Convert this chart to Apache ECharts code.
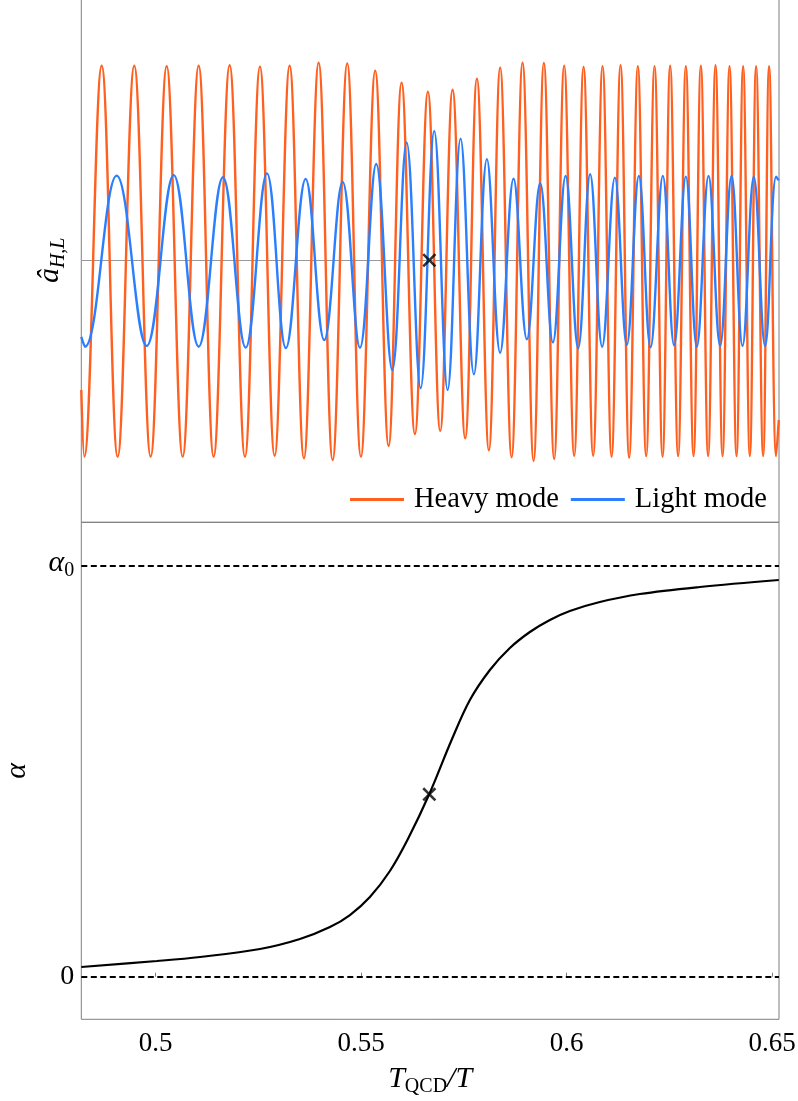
<!DOCTYPE html>
<html>
<head>
<meta charset="utf-8">
<script src="https://cdn.jsdelivr.net/npm/echarts@6/dist/echarts.min.js"></script>
<style>
html,body{margin:0;padding:0;background:#fff;}
#c{width:798px;height:1101px;}
</style>
</head>
<body>
<div id="c"></div>
<script>
// x axis: T_QCD / T
const xTicks = [0.5, 0.55, 0.6, 0.65];
const xTickLabels = ['0.5', '0.55', '0.6', '0.65'];

// Heavy mode: successive extrema (x, amplitude)
const heavyX = [0.4819, 0.48263, 0.48686, 0.49075, 0.49479, 0.49878, 0.50268, 0.50657, 0.51046, 0.51411,
  0.51800, 0.52173, 0.52538, 0.52895, 0.53260, 0.53608, 0.53966, 0.54307, 0.54662, 0.54995,
  0.55343, 0.55669, 0.55985, 0.56309, 0.56625, 0.56925, 0.57226, 0.57533, 0.57818, 0.58109,
  0.58384, 0.58662, 0.58929, 0.59197, 0.59448, 0.59698, 0.59942, 0.60185, 0.60414, 0.60647,
  0.60876, 0.61095, 0.61314, 0.61523, 0.61735, 0.61937, 0.62141, 0.62336, 0.62521, 0.62715,
  0.62903, 0.63090, 0.63268, 0.63445, 0.63625, 0.63796, 0.63966, 0.64136, 0.64297, 0.64460,
  0.64613, 0.64784, 0.64929, 0.65100, 0.65165];
const heavyY = [-0.665, -1.007, 0.998, -1.007, 0.998, -1.007, 0.995, -1.007, 0.998, -1.007,
  1.0, -1.007, 0.993, -1.002, 0.998, -1.015, 1.013, -1.024, 1.01, -1.007,
  0.972, -0.952, 0.911, -0.891, 0.865, -0.875, 0.875, -0.913, 0.931, -0.974,
  0.988, -1.01, 1.013, -1.028, 1.012, -1.019, 0.998, -1.002, 0.991, -1.002,
  0.996, -1.007, 1.0, -1.012, 0.996, -1.004, 0.996, -1.007, 0.998, -1.004,
  0.996, -1.004, 0.998, -1.004, 1.0, -1.004, 0.996, -1.004, 0.996, -1.004,
  0.995, -1.004, 0.996, -1.004, -0.82];

// Light mode: successive extrema
const lightX = [0.4819, 0.48280, 0.49051, 0.49781, 0.50438, 0.51046, 0.51637, 0.52190, 0.52708, 0.53170,
  0.53650, 0.54102, 0.54550, 0.54971, 0.55367, 0.55757, 0.56107, 0.56448, 0.56779, 0.57105,
  0.57421, 0.57745, 0.58061, 0.58384, 0.58710, 0.59034, 0.59358, 0.59667, 0.59976, 0.60282,
  0.60574, 0.60866, 0.61175, 0.61467, 0.61759, 0.62044, 0.62343, 0.62618, 0.62903, 0.63170,
  0.63455, 0.63737, 0.64015, 0.64282, 0.64557, 0.64832, 0.65100, 0.65165];
const lightY = [-0.393, -0.443, 0.434, -0.439, 0.437, -0.443, 0.426, -0.448, 0.446, -0.450,
  0.417, -0.409, 0.402, -0.448, 0.494, -0.563, 0.605, -0.656, 0.663, -0.665,
  0.624, -0.585, 0.519, -0.474, 0.418, -0.405, 0.395, -0.421, 0.432, -0.451,
  0.441, -0.443, 0.424, -0.434, 0.432, -0.446, 0.432, -0.436, 0.429, -0.443,
  0.432, -0.439, 0.432, -0.439, 0.429, -0.439, 0.429, 0.41];

// alpha(T) curve (alpha_0 = 1)
const alphaX = [0.4819, 0.50032, 0.51078, 0.52538, 0.53511, 0.54241, 0.54728, 0.55214, 0.55701, 0.56139,
  0.56657, 0.57202, 0.57647, 0.58134, 0.58620, 0.59107, 0.59594, 0.60080, 0.60810, 0.61783,
  0.63243, 0.65165];
const alphaY = [0.0236, 0.0382, 0.0480, 0.0674, 0.0918, 0.1210, 0.1502, 0.1941, 0.2574, 0.3353,
  0.4441, 0.5763, 0.6737, 0.7468, 0.8003, 0.8393, 0.8685, 0.8904, 0.9123, 0.9318,
  0.9489, 0.9659];

// marked point (×)
const markX = 0.5666;
const markAlpha = 0.4441;
const refLines = [0, 1];

const zip = (xs, ys) => xs.map((x, i) => [x, ys[i]]);

const FONT = 'Liberation Serif';
const GRAY = '#7f7f7f';
const ORANGE = '#FF5F1F';
const BLUE = '#2B7FFF';
const XSYM = 'path://M0,1.3L1.3,0L5,3.7L8.7,0L10,1.3L6.3,5L10,8.7L8.7,10L5,6.3L1.3,10L0,8.7L3.7,5Z';

const chart = echarts.init(document.getElementById('c'), null, {renderer: 'canvas'});
chart.setOption({
  animation: false,
  backgroundColor: '#fff',
  textStyle: {fontFamily: FONT},
  grid: [
    {left: 81.3, right: 19, top: -1.7, height: 524, show: true, borderColor: GRAY, borderWidth: 1,
      backgroundColor: 'transparent', outerBoundsMode: 'none', containLabel: false},
    {left: 81.3, right: 19, top: 522.3, height: 497, show: true, borderColor: GRAY, borderWidth: 1,
      backgroundColor: 'transparent', outerBoundsMode: 'none', containLabel: false}
  ],
  legend: {
    data: ['Heavy mode', 'Light mode'],
    left: 350, top: 485,
    icon: 'rect', itemWidth: 54, itemHeight: 3, itemGap: 12,
    textStyle: {fontFamily: FONT, fontSize: 28.5, color: '#000', padding: [0, 0, 0, 5]},
    padding: 0
  },
  xAxis: [
    {type: 'value', gridIndex: 0, min: 0.4819, max: 0.6517,
      axisLine: {show: false}, axisTick: {show: false}, axisLabel: {show: false}, splitLine: {show: false}},
    {type: 'value', gridIndex: 1, min: 0.4819, max: 0.6517,
      axisLine: {show: false}, splitLine: {show: false},
      axisTick: {show: true, inside: true, length: 4, customValues: xTicks, lineStyle: {color: GRAY}},
      axisLabel: {show: true, customValues: xTicks, margin: 11, fontFamily: FONT, fontSize: 27, color: '#000',
        formatter: v => xTickLabels[xTicks.findIndex(t => Math.abs(t - v) < 1e-9)]},
      name: '{i|T}{s|QCD}{i|/T}', nameLocation: 'middle', nameGap: 47,
      nameTextStyle: {rich: {
        i: {fontFamily: FONT, fontStyle: 'italic', fontSize: 30, color: '#000', lineHeight: 30, padding: [0, 0, 5, 0]},
        s: {fontFamily: FONT, fontSize: 20, color: '#000', lineHeight: 20, verticalAlign: 'bottom'}
      }}}
  ],
  yAxis: [
    {type: 'value', gridIndex: 0, min: -1.3436, max: 1.3436,
      axisLine: {show: false}, axisTick: {show: false}, axisLabel: {show: false}, splitLine: {show: false},
      name: '{a|â}{s|H,L}', nameLocation: 'middle', nameRotate: 90, nameGap: 13,
      nameTextStyle: {rich: {
        a: {fontFamily: FONT, fontStyle: 'italic', fontSize: 30, color: '#000', lineHeight: 32, padding: [0, 0, 5, 0]},
        s: {fontFamily: FONT, fontStyle: 'italic', fontSize: 20, color: '#000', lineHeight: 20, verticalAlign: 'bottom'}
      }}},
    {type: 'value', gridIndex: 1, min: -0.1037, max: 1.1064,
      axisLine: {show: false}, axisTick: {show: false}, splitLine: {show: false},
      axisLabel: {show: true, customValues: refLines, margin: 7,
        formatter: v => v === 1 ? '{a|α}{s|0}' : '{n|0}',
        rich: {
          a: {fontFamily: FONT, fontStyle: 'italic', fontSize: 30, color: '#000', lineHeight: 30, padding: [0, 0, 5, 0]},
          s: {fontFamily: FONT, fontSize: 20, color: '#000', lineHeight: 20, verticalAlign: 'bottom'},
          n: {fontFamily: FONT, fontSize: 28, color: '#000'}
        }},
      name: '{a|α}', nameLocation: 'middle', nameRotate: 90, nameGap: 49,
      nameTextStyle: {rich: {a: {fontFamily: FONT, fontStyle: 'italic', fontSize: 30, color: '#000'}}}}
  ],
  series: [
    {name: 'Heavy mode', type: 'line', xAxisIndex: 0, yAxisIndex: 0, data: zip(heavyX, heavyY),
      smooth: 0.4, showSymbol: false, symbol: 'none', lineStyle: {color: ORANGE, width: 2.4}, itemStyle: {color: ORANGE},
      z: 3,
      markLine: {silent: true, symbol: 'none', label: {show: false}, z: 1,
        lineStyle: {color: '#999', width: 1, type: 'solid'}, data: [{yAxis: 0}]}},
    {name: 'Light mode', type: 'line', xAxisIndex: 0, yAxisIndex: 0, data: zip(lightX, lightY),
      smooth: 0.4, showSymbol: false, symbol: 'none', lineStyle: {color: BLUE, width: 2.4}, itemStyle: {color: BLUE}, z: 4},
    {type: 'scatter', xAxisIndex: 0, yAxisIndex: 0, data: [[markX, 0]], symbol: XSYM, symbolSize: 14,
      itemStyle: {color: '#000'}, z: 6, silent: true},
    {type: 'line', xAxisIndex: 1, yAxisIndex: 1, data: zip(alphaX, alphaY),
      smooth: 0.35, showSymbol: false, symbol: 'none', lineStyle: {color: '#000', width: 2.2}, z: 4,
      markLine: {silent: true, symbol: 'none', label: {show: false},
        lineStyle: {color: '#000', width: 2, type: [6, 3.5]}, data: refLines.map(v => ({yAxis: v}))}},
    {type: 'scatter', xAxisIndex: 1, yAxisIndex: 1, data: [[markX, markAlpha]], symbol: XSYM, symbolSize: 14,
      itemStyle: {color: '#000'}, z: 6, silent: true}
  ]
});
</script>
</body>
</html>
